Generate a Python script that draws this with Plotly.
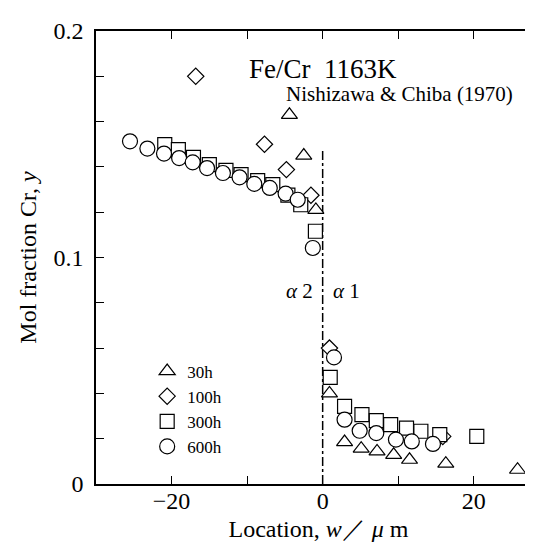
import plotly.graph_objects as go

# ---- data ----
t30_x = [-4.4, -2.5, -0.9, 0.9, 2.9, 5.1, 7.2, 9.4, 11.5, 16.3, 25.8]
t30_y = [0.163, 0.145, 0.121, 0.040, 0.0185, 0.0156, 0.0144, 0.0129, 0.0107, 0.0090, 0.0063]

d100_x = [-16.8, -7.7, -4.8, -1.55, 0.9, 15.9]
d100_y = [0.180, 0.150, 0.1388, 0.1275, 0.060, 0.021]

s300_x = [-20.9, -19.1, -17.1, -15.0, -12.8, -10.8, -8.6, -6.6, -4.6, -2.9, -0.96,
          1.0, 2.9, 5.2, 7.1, 9.0, 11.1, 13.0, 15.5, 20.4]
s300_y = [0.1498, 0.1476, 0.1442, 0.1410, 0.1385, 0.1366, 0.1339, 0.1322, 0.1275, 0.1233, 0.1116,
          0.0471, 0.0343, 0.0306, 0.0280, 0.0262, 0.0247, 0.0233, 0.0218, 0.0210]

c600_x = [-25.5, -23.2, -21.0, -19.0, -17.2, -15.3, -13.2, -11.0, -9.05, -7.0, -4.9, -3.3, -1.3,
          1.5, 2.9, 4.9, 7.1, 9.7, 11.8, 14.6]
c600_y = [0.1513, 0.1481, 0.1459, 0.1439, 0.1420, 0.1395, 0.1373, 0.1354, 0.1325, 0.1307, 0.1282, 0.1255, 0.1042,
          0.0559, 0.0284, 0.0235, 0.0225, 0.0196, 0.0188, 0.0177]

series_names = ["30h", "100h", "300h", "600h"]

x_tickvals = [-20, -10, 0, 10, 20]
x_ticktext = ["\u221220", "", "0", "", "20"]
y_tickvals = [0, 0.02, 0.04, 0.06, 0.08, 0.1, 0.12, 0.14, 0.16, 0.18, 0.2]
y_ticktext = ["0", "", "", "", "", "0.1", "", "", "", "", "0.2"]

interface_x = 0
interface_top = 0.148

FONT = "Liberation Serif, Times New Roman, serif"

fig = go.Figure()

def add(x, y, name, symbol, size, rank):
    fig.add_trace(go.Scatter(
        x=x, y=y, mode="markers", name=name, legendrank=rank,
        marker=dict(symbol=symbol, size=size, color="white",
                    line=dict(color="black", width=1.2)),
    ))

add(d100_x, d100_y, series_names[1], "diamond", 12.5, 2)
add(t30_x, t30_y, series_names[0], "triangle-up", 14, 1)
add(s300_x, s300_y, series_names[2], "square", 14, 3)
add(c600_x, c600_y, series_names[3], "circle", 15, 4)

fig.add_shape(type="line", x0=interface_x, x1=interface_x, y0=0, y1=interface_top,
              xref="x", yref="y", line=dict(color="black", width=1.5, dash="dashdot"),
              layer="below")

fig.add_annotation(x=0, y=0.1832, text="Fe/Cr  1163K", showarrow=False,
                   font=dict(family=FONT, size=27, color="black"), xanchor="center", yanchor="middle")
fig.add_annotation(x=25.4, y=0.172, text="Nishizawa &amp; Chiba (1970)", showarrow=False,
                   font=dict(family=FONT, size=21, color="black"), xanchor="right", yanchor="middle")
fig.add_annotation(x=-3.05, y=0.085, text="<i>\u03b1</i> 2", showarrow=False,
                   font=dict(family=FONT, size=21, color="black"), xanchor="center", yanchor="middle")
fig.add_annotation(x=3.2, y=0.085, text="<i>\u03b1</i> 1", showarrow=False,
                   font=dict(family=FONT, size=21, color="black"), xanchor="center", yanchor="middle")

fig.update_layout(
    width=533, height=546,
    margin=dict(l=88, r=0, t=23, b=70),
    paper_bgcolor="white", plot_bgcolor="white",
    font=dict(family=FONT, size=24, color="black"),
    showlegend=True,
    legend=dict(x=0.115, y=0.288, xanchor="left", yanchor="top",
                bgcolor="rgba(0,0,0,0)", font=dict(family=FONT, size=17),
                tracegroupgap=0, itemsizing="trace"),
    xaxis=dict(range=[-30, 28.9], showline=True, linecolor="black", linewidth=1.5,
               mirror="ticks", ticks="inside", ticklen=8, tickwidth=1.2, tickcolor="black",
               tickvals=x_tickvals, ticktext=x_ticktext, showgrid=False, zeroline=False,
               ticklabelstandoff=-6,
               title=dict(text="Location, <i>w</i>\uff0f <i>\u03bc</i> m", standoff=8,
                          font=dict(family=FONT, size=24))),
    yaxis=dict(range=[0, 0.2], showline=True, linecolor="black", linewidth=1.5,
               mirror=False, ticks="inside", ticklen=8, tickwidth=1.2, tickcolor="black",
               tickvals=y_tickvals, ticktext=y_ticktext, showgrid=False, zeroline=False,
               ticklabelstandoff=6,
               title=dict(text="Mol fraction Cr, <i>y</i>", standoff=10,
                          font=dict(family=FONT, size=24))),
)

fig.write_html("out.html")
